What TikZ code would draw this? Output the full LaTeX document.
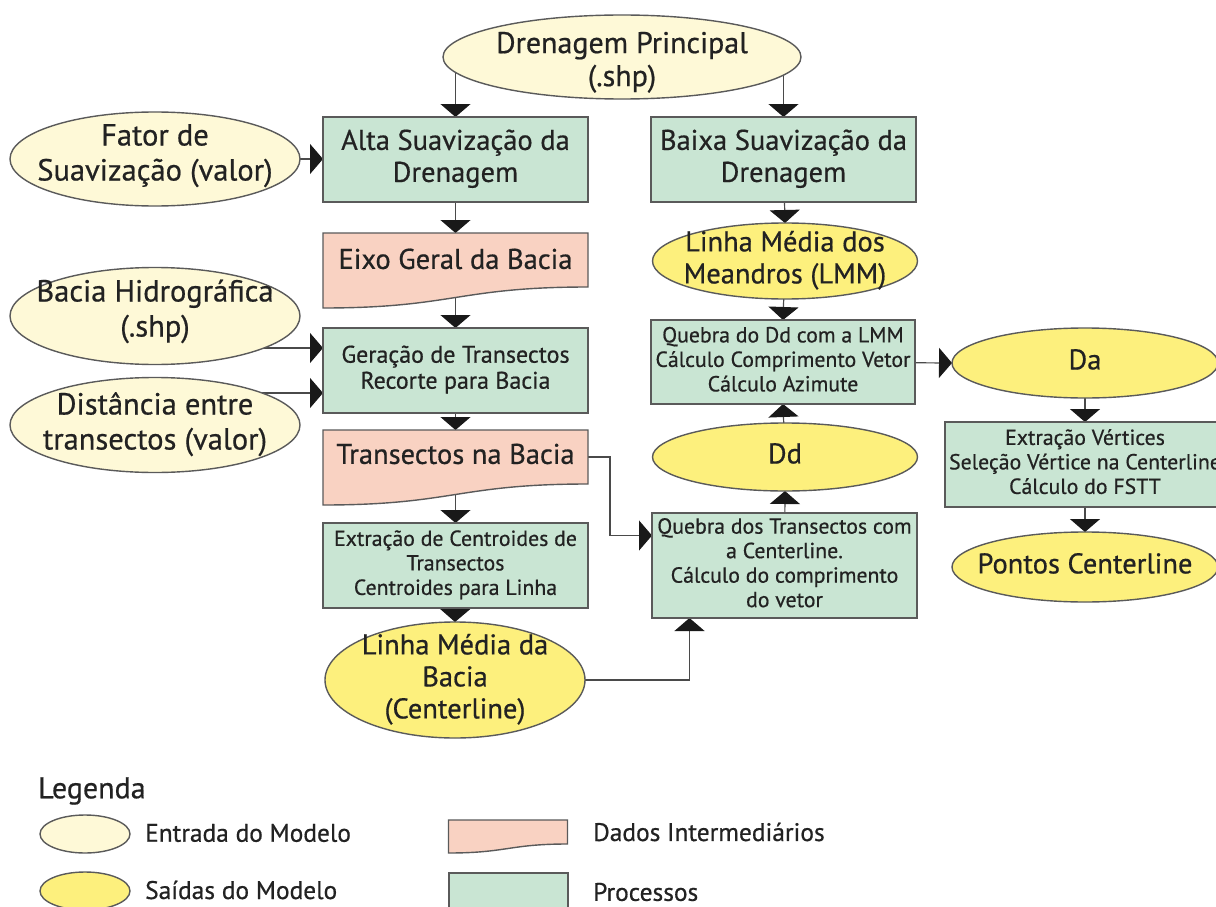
\documentclass[tikz,border=0pt]{standalone}
\usepackage{fontspec}
\setmainfont{PT Sans}[FakeBold=0.6]
\usetikzlibrary{shapes.geometric,arrows.meta,calc}
\pgfdeclarelayer{lines}
\pgfdeclarelayer{docs}
\pgfsetlayers{lines,docs,main}
\definecolor{inY}{HTML}{FEF9D7}
\definecolor{outY}{HTML}{FDF07D}
\definecolor{procG}{HTML}{C9E5D3}
\definecolor{dataP}{HTML}{F9D2C2}
\definecolor{edgeC}{HTML}{5A5A5A}
\definecolor{lineC}{HTML}{4A4A4A}
\definecolor{txtC}{HTML}{222222}
\newcommand\zc[2][0pt]{\raisebox{\dimexpr(\depth-\height)/2+#1\relax}[0pt][0pt]{\makebox[0pt]{\begin{tabular}{@{}c@{}}#2\end{tabular}}}}
\tikzset{
  base/.style={inner sep=0pt, outer sep=0pt, text=txtC, draw=edgeC, line width=1.4pt},
  big/.style={font=\fontsize{28.5}{32}\selectfont},
  bigL/.style={font=\fontsize{30.5}{35}\selectfont},
  gmed/.style={font=\fontsize{24}{26}\selectfont},
  med/.style={font=\fontsize{21.8}{24.5}\selectfont},
  leg/.style={font=\fontsize{25.4}{28}\selectfont, text=txtC, inner sep=0pt, anchor=west},
  inp/.style={base, bigL, ellipse, fill=inY},
  outp/.style={base, big, ellipse, fill=outY},
  proc/.style={base, rectangle, fill=procG},
  docn/.style={base, big, rectangle, draw=none},
  docshape/.style={draw=edgeC, line width=1.4pt, fill=dataP},
  arr/.style={draw=lineC, line width=1.2pt, -{Triangle[width=30pt,length=13pt,color=black!90]}},
}
\begin{document}
\begin{tikzpicture}[x=1pt,y=-1pt]
\useasboundingbox (0,0) rectangle (1216,907);
\clip (0,0) rectangle (1216,907);
% main flow nodes
\node[inp, font=\fontsize{30}{33}\selectfont, minimum width=358pt, minimum height=84pt] (dren) at (622,57) {\zc[-6pt]{Drenagem Principal\\(.shp)}};
\node[proc, big, minimum width=265pt, minimum height=85pt] (alta) at (455.5,159.5) {\zc{Alta Suavização da\\Drenagem}};
\node[proc, big, minimum width=265pt, minimum height=85pt] (baixa) at (783.5,159.5) {\zc{Baixa Suavização da\\Drenagem}};
\node[inp, minimum width=290pt, minimum height=94pt] (fator) at (155,159) {\zc[3pt]{Fator de\\Suavização (valor)}};
\node[docn, minimum width=265pt, minimum height=75pt] (eixo) at (455.5,270.5) {\zc[8pt]{Eixo Geral da Bacia}};
\node[inp, minimum width=290pt, minimum height=97pt] (bacia) at (155,316) {\zc[4pt]{Bacia Hidrográfica\\(.shp)}};
\node[inp, minimum width=290pt, minimum height=95pt] (dist) at (155,425) {\zc{Distância entre\\transectos (valor)}};
\node[proc, gmed, minimum width=265pt, minimum height=85pt] (ger) at (455.5,370.5) {\zc{Geração de Transectos\\Recorte para Bacia}};
\node[docn, minimum width=265pt, minimum height=75pt] (tnb) at (455.5,467.5) {\zc[10pt]{Transectos na Bacia}};
\node[proc, med, minimum width=265pt, minimum height=85pt] (ext) at (455.5,565.5) {\zc{Extração de Centroides de\\Transectos\\Centroides para Linha}};
\node[outp, minimum width=260pt, minimum height=116pt] (lmb) at (455,680) {\zc{Linha Média da\\Bacia\\(Centerline)}};
\node[outp, minimum width=265pt, minimum height=76pt] (lmm) at (785,261) {\zc{Linha Média dos\\Meandros (LMM)}};
\node[proc, med, minimum width=264pt, minimum height=84pt] (qdd) at (783,362) {\zc{Quebra do Dd com a LMM\\Cálculo Comprimento Vetor\\Cálculo Azimute}};
\node[outp, minimum width=265pt, minimum height=68pt] (dd) at (785,457) {\zc{Dd}};
\node[proc, med, minimum width=265pt, minimum height=105pt] (qt) at (784.5,565.5) {\zc{Quebra dos Transectos com\\a Centerline.\\Cálculo do comprimento\\do vetor}};
\node[outp, minimum width=266pt, minimum height=70pt] (da) at (1085,363) {\zc{Da}};
\node[proc, med, minimum width=280pt, minimum height=85pt] (ev) at (1085,464.5) {\zc{Extração Vértices\\Seleção Vértice na Centerline\\Cálculo do FSTT}};
\node[outp, minimum width=266pt, minimum height=70pt] (pc) at (1085,567) {\zc{Pontos Centerline}};
% legend
\node[leg, font=\fontsize{30}{34}\selectfont] (legt) at (38,791) {Legenda};
\node[base, ellipse, fill=inY, minimum width=90pt, minimum height=38pt] (lin) at (85,834) {};
\node[base, ellipse, fill=outY, minimum width=90pt, minimum height=38pt] (lout) at (85,891) {};
\node[docn, minimum width=119pt, minimum height=33pt] (ldoc) at (508,836.5) {};
\node[proc, minimum width=119pt, minimum height=44pt] (lproc) at (508.5,895) {};
\node[leg] (tin) at (145,833) {Entrada do Modelo};
\node[leg] (tout) at (145,890) {Saídas do Modelo};
\node[leg] (tdoc) at (593,832) {Dados Intermediários};
\node[leg] (tproc) at (593,892) {Processos};
% document shapes
\begin{pgfonlayer}{docs}
\foreach \n in {eixo,tnb}
  \draw[docshape] (\n.north west) -- (\n.north east) -- ([yshift=21pt]\n.south east)
    .. controls ([xshift=-130pt,yshift=21pt]\n.south east) and ([xshift=130pt]\n.south west) .. (\n.south west) -- cycle;
\draw[docshape] (ldoc.north west) -- (ldoc.north east) -- ([yshift=9pt]ldoc.south east)
    .. controls ([xshift=-58pt,yshift=9pt]ldoc.south east) and ([xshift=58pt]ldoc.south west) .. (ldoc.south west) -- cycle;
\end{pgfonlayer}
% connectors
\begin{pgfonlayer}{lines}
\fill[white] (0,0) rectangle (1216,907);
\coordinate (gA) at ([yshift=22.5pt]ger.west);
\coordinate (gB) at ([yshift=-22.5pt]ger.west);
\coordinate (elb) at (610,457);
\coordinate (qtin) at ([yshift=30pt]qt.west);
\coordinate (qtb) at ([xshift=-95pt]qt.south);
\draw[arr] (dren.center -| alta.north) -- (alta.north);
\draw[arr] (dren.center -| baixa.north) -- (baixa.north);
\draw[arr] (fator.center) -- (fator.center -| alta.west);
\draw[arr] (alta.center) -- (eixo.north);
\draw[arr] (eixo.center) -- (ger.north);
\draw[arr] (bacia.center |- gA) -- (gA);
\draw[arr] (dist.center |- gB) -- (gB);
\draw[arr] (ger.center) -- (tnb.north);
\draw[arr] (tnb.center) -- (ext.north);
\draw[arr] (ext.center) -- (lmb.north);
\draw[arr] (tnb.center |- elb) -- (elb) |- (qtin);
\draw[arr] (lmb.center) -| (qtb);
\draw[arr] (qt.center) -- (dd.south);
\draw[arr] (dd.center) -- (qdd.south);
\draw[arr] (baixa.center) -- (lmm.north);
\draw[arr] (lmm.center) -- (qdd.north);
\draw[arr] (qdd.center) -- (da.west);
\draw[arr] (da.center) -- (ev.north);
\draw[arr] (ev.center) -- (pc.north);
\end{pgfonlayer}
\end{tikzpicture}
\end{document}
